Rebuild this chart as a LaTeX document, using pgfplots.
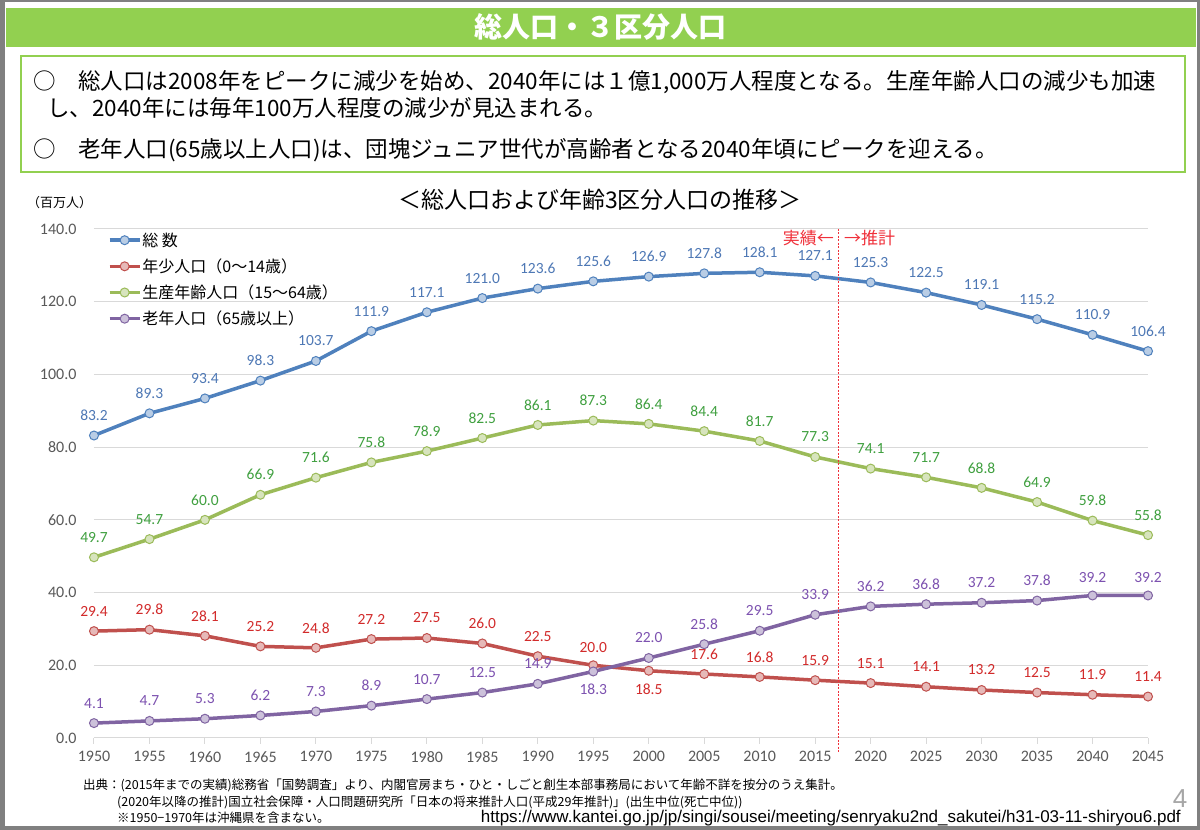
\documentclass[border=0pt]{standalone}
\usepackage{fontspec}
\setmainfont{Carlito}
\newfontfamily\jp{Noto Sans CJK JP}
\newfontfamily\urlfnt{Liberation Sans}
\usepackage{pgfplots}
\usepackage{pgfplotstable}
\pgfplotsset{compat=1.18}

\definecolor{framegray}{HTML}{808080}
\definecolor{bannergreen}{HTML}{92D050}
\definecolor{gridgray}{HTML}{D9D9D9}
\definecolor{tickgray}{HTML}{595959}
\definecolor{blueL}{HTML}{4F81BD}
\definecolor{blueF}{HTML}{B9CDE5}
\definecolor{blueT}{HTML}{4E78B5}
\definecolor{redL}{HTML}{C0504D}
\definecolor{redF}{HTML}{E6B9B8}
\definecolor{redT}{HTML}{D22B2B}
\definecolor{greenL}{HTML}{9BBB59}
\definecolor{greenF}{HTML}{D7E4BD}
\definecolor{greenT}{HTML}{40A040}
\definecolor{purpleL}{HTML}{8064A2}
\definecolor{purpleF}{HTML}{CCC1DA}
\definecolor{purpleT}{HTML}{7D52B0}
\definecolor{estred}{HTML}{F0303A}

\pgfplotstableread{
year val dy
1950 83.2 20
1955 89.3 20
1960 93.4 20
1965 98.3 20
1970 103.7 20
1975 111.9 20
1980 117.1 20
1985 121.0 20
1990 123.6 20
1995 125.6 20
2000 126.9 20
2005 127.8 20
2010 128.1 20
2015 127.1 20
2020 125.3 20
2025 122.5 20
2030 119.1 20
2035 115.2 20
2040 110.9 20
2045 106.4 20
}\totaltab

\pgfplotstableread{
year val dy
1950 29.4 20
1955 29.8 20
1960 28.1 20
1965 25.2 20
1970 24.8 20
1975 27.2 20
1980 27.5 20
1985 26.0 20
1990 22.5 20
1995 20.0 18
2000 18.5 -19
2005 17.6 20
2010 16.8 20
2015 15.9 20
2020 15.1 20
2025 14.1 20
2030 13.2 20
2035 12.5 20
2040 11.9 20
2045 11.4 20
}\youngtab

\pgfplotstableread{
year val dy
1950 49.7 20
1955 54.7 20
1960 60.0 20
1965 66.9 20
1970 71.6 20
1975 75.8 20
1980 78.9 20
1985 82.5 20
1990 86.1 20
1995 87.3 20
2000 86.4 20
2005 84.4 20
2010 81.7 20
2015 77.3 20
2020 74.1 20
2025 71.7 20
2030 68.8 20
2035 64.9 20
2040 59.8 20
2045 55.8 20
}\worktab

\pgfplotstableread{
year val dy
1950 4.1 20
1955 4.7 20
1960 5.3 20
1965 6.2 20
1970 7.3 20
1975 8.9 20
1980 10.7 20
1985 12.5 20
1990 14.9 20
1995 18.3 -18
2000 22.0 20
2005 25.8 20
2010 29.5 20
2015 33.9 20
2020 36.2 20
2025 36.8 20
2030 37.2 20
2035 37.8 20
2040 39.2 18
2045 39.2 18
}\oldtab

\begin{document}
\begin{tikzpicture}[x=1pt,y=1pt]
\fill[framegray] (0,0) rectangle (1200,830);
\fill[white] (5,4) rectangle (1197,828);
\path[use as bounding box] (0,0) rectangle (1200,830);
% banner
\fill[bannergreen] (6,783) rectangle (1196,822);
\node[text=white, font=\jp\bfseries\fontsize{28}{32}\selectfont] at (600,803) {総人口・３区分人口};
% text box
\draw[bannergreen, line width=2.5pt] (21,658) rectangle (1185,774);
\node[anchor=west, inner sep=0, font=\jp\fontsize{22.5}{26}\selectfont] at (33,748) {○　総人口は2008年をピークに減少を始め、2040年には１億1,000万人程度となる。生産年齢人口の減少も加速};
\node[anchor=west, inner sep=0, font=\jp\fontsize{22.5}{26}\selectfont] at (47,722) {し、2040年には毎年100万人程度の減少が見込まれる。};
\node[anchor=west, inner sep=0, font=\jp\fontsize{22.5}{26}\selectfont] at (33,680) {○　老年人口(65歳以上人口)は、団塊ジュニア世代が高齢者となる2040年頃にピークを迎える。};
% chart title
\node[font=\jp\fontsize{23}{27}\selectfont] at (600,630) {＜総人口および年齢3区分人口の推移＞};
\node[anchor=west, inner sep=0, font=\jp\fontsize{13}{15}\selectfont] at (27,627) {（百万人）};

\begin{axis}[
  at={(94pt,92pt)}, anchor=south west,
  scale only axis, width=1054pt, height=509pt,
  xmin=1950, xmax=2045, ymin=0, ymax=140,
  xtick={1950,1955,...,2045}, ytick={0,20,...,140},
  axis line style={draw=none},
  ymajorgrids, grid style={draw=gridgray, line width=1pt},
  xtick pos=bottom, tick align=outside, major tick length=6pt,
  xtick style={draw=gridgray, line width=1pt},
  ytick style={draw=none},
  /pgf/number format/assume math mode=true,
  x tick label style={/pgf/number format/1000 sep={}, font=\fontsize{16}{19}\selectfont, text=tickgray, yshift=-4pt},
  yticklabel={\pgfmathprintnumber[fixed,fixed zerofill,precision=1]{\tick}},
  y tick label style={font=\fontsize{16}{19}\selectfont, text=tickgray, xshift=-8pt},
  clip=false,
  point meta=y,
  nodes near coords={\pgfmathprintnumber[fixed,fixed zerofill,precision=1]{\pgfplotspointmeta}},
  visualization depends on={\thisrow{dy} \as \labdy},
  every node near coord/.append style={anchor=center, yshift=\labdy pt, font=\fontsize{15.5}{18}\selectfont},
  legend image code/.code={\draw[mark repeat=2,mark phase=2,#1] plot coordinates {(0pt,0pt) (15pt,0pt) (30pt,0pt)};},
  legend style={at={(rel axis cs:0.013,0.995)}, anchor=north west, draw=none, fill=none, inner sep=0pt,
    font=\jp\fontsize{16}{19}\selectfont, row sep=9pt,
    nodes={inner sep=1pt}},
  legend cell align=left,
]
\addplot[color=blueL, line width=3.5pt, mark=*, mark size=4.5pt, mark options={fill=blueF, draw=blueL, line width=1pt},
  every node near coord/.append style={text=blueT}] table[x=year,y=val] {\totaltab};
\addlegendentry{総\ 数}
\addplot[color=redL, line width=3.5pt, mark=*, mark size=4.5pt, mark options={fill=redF, draw=redL, line width=1pt},
  every node near coord/.append style={text=redT}] table[x=year,y=val] {\youngtab};
\addlegendentry{年少人口（0～14歳）}
\addplot[color=greenL, line width=3.5pt, mark=*, mark size=4.5pt, mark options={fill=greenF, draw=greenL, line width=1pt},
  every node near coord/.append style={text=greenT}] table[x=year,y=val] {\worktab};
\addlegendentry{生産年齢人口（15～64歳）}
\addplot[color=purpleL, line width=3.5pt, mark=*, mark size=4.5pt, mark options={fill=purpleF, draw=purpleL, line width=1pt},
  every node near coord/.append style={text=purpleT}] table[x=year,y=val] {\oldtab};
\addlegendentry{老年人口（65歳以上）}
\draw[estred, line width=0.8pt, dash pattern=on 2pt off 1.5pt] (axis cs:2017.1,140) -- (axis cs:2017.1,-4);
\node[anchor=east, inner sep=0, text=estred, font=\jp\fontsize{17}{20}\selectfont] at (axis cs:2016.7,137.5) {実績←};
\node[anchor=west, inner sep=0, text=estred, font=\jp\fontsize{17}{20}\selectfont] at (axis cs:2017.6,137.5) {→推計};
\end{axis}

% footnotes
\node[anchor=west, inner sep=0, font=\jp\fontsize{12.5}{15}\selectfont] at (83,45) {出典：(2015年までの実績)総務省「国勢調査」より、内閣官房まち・ひと・しごと創生本部事務局において年齢不詳を按分のうえ集計。};
\node[anchor=west, inner sep=0, font=\jp\fontsize{12.5}{15}\selectfont] at (117,28) {(2020年以降の推計)国立社会保障・人口問題研究所「日本の将来推計人口(平成29年推計)」(出生中位(死亡中位))};
\node[anchor=west, inner sep=0, font=\jp\fontsize{12.5}{15}\selectfont] at (117,12) {※1950−1970年は沖縄県を含まない。};
\node[text=gray!70, font=\urlfnt\fontsize{26}{30}\selectfont] at (1180,31) {4};
\node[anchor=base east, inner sep=0, font=\urlfnt\fontsize{17}{20}\selectfont] at (1181,7) {https://www.kantei.go.jp/jp/singi/sousei/meeting/senryaku2nd\_sakutei/h31-03-11-shiryou6.pdf};
\end{tikzpicture}
\end{document}
